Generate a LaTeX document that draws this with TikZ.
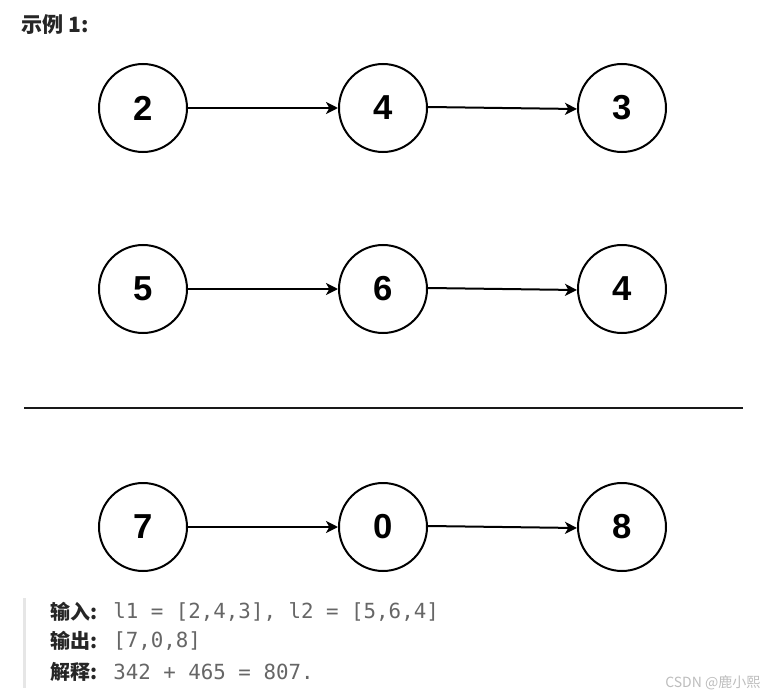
\documentclass[tikz,border=0pt]{standalone}
\usepackage{fontspec}
\setmainfont{Liberation Sans}
\setmonofont{DejaVu Sans Mono}
\newfontfamily\cjk{Noto Sans CJK SC}
\usetikzlibrary{arrows.meta}
\definecolor{txtdark}{HTML}{262626}
\definecolor{txtgray}{HTML}{666666}
\definecolor{barcol}{HTML}{E6E6E6}
\definecolor{wmark}{HTML}{BDBDBD}
\tikzset{
  listnode/.style={circle,draw=black,line width=1.5pt,minimum size=66pt,inner sep=0pt,
    font=\fontsize{26}{28}\selectfont\bfseries},
  link/.style={line width=1.5pt,-{Stealth[length=9pt,width=9pt,inset=2.5pt]}},
  lbl/.style={anchor=west,inner sep=0pt,text=txtdark,font=\cjk\bfseries\fontsize{15}{17}\selectfont},
  val/.style={anchor=west,inner sep=0pt,text=txtgray,font=\ttfamily\fontsize{15.6}{17}\selectfont},
}
\begin{document}
\begin{tikzpicture}[x=0.75pt,y=-0.75pt]
\useasboundingbox (0,0) rectangle (769,696);
\fill[white] (0,0) rectangle (769,696);
% title
\node[anchor=west,inner sep=0pt,text=txtdark,font=\cjk\bfseries\fontsize{15.8}{17}\selectfont] (title) at (21,25) {示例 1:};
% row 1
\node[listnode] (a1) at (143,108) {2};
\node[listnode] (a2) at (383,108) {4};
\node[listnode] (a3) at (622,108) {3};
\draw[link] (a1) -- (a2);
\draw[link] ([yshift=0.75pt]a2.east) -- ([yshift=-0.75pt]a3.west);
% row 2
\node[listnode] (b1) at (143,289) {5};
\node[listnode] (b2) at (383,289) {6};
\node[listnode] (b3) at (622,289) {4};
\draw[link] (b1) -- (b2);
\draw[link] ([yshift=0.75pt]b2.east) -- ([yshift=-0.75pt]b3.west);
% rule
\coordinate (r1) at (24,408);
\coordinate (r2) at (743,408);
\draw[line width=2.2pt,black!90] (r1) -- (r2);
% row 3
\node[listnode] (c1) at (143,527) {7};
\node[listnode] (c2) at (383,527) {0};
\node[listnode] (c3) at (622,527) {8};
\draw[link] (c1) -- (c2);
\draw[link] ([yshift=0.75pt]c2.east) -- ([yshift=-0.75pt]c3.west);
% quote bar
\fill[barcol] (22.5,598) rectangle (25.5,688);
% explanation
\node[lbl] (l1) at (50,612) {输入:};
\node[val] (v1) at (113,612) {l1 = [2,4,3], l2 = [5,6,4]};
\node[lbl] (l2) at (50,641) {输出:};
\node[val] (v2) at (113,641) {[7,0,8]};
\node[lbl] (l3) at (50,672) {解释:};
\node[val] (v3) at (113,672) {342 + 465 = 807.};
% watermark
\node[anchor=west,inner sep=0pt,text=wmark,font=\cjk\fontsize{10.5}{12}\selectfont] (wm) at (665,683) {CSDN @鹿小熙};
\end{tikzpicture}
\end{document}
